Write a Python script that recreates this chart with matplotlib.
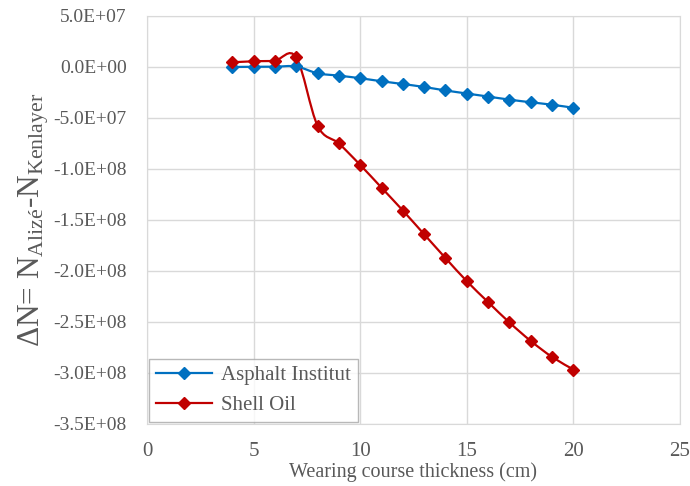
import numpy as np
import matplotlib.pyplot as plt
from matplotlib.path import Path
from matplotlib.patches import PathPatch

plt.rcParams['font.family'] = ['Liberation Serif', 'DejaVu Serif']
plt.rcParams['mathtext.fontset'] = 'custom'
plt.rcParams['mathtext.rm'] = 'Liberation Serif'
plt.rcParams['mathtext.it'] = 'Liberation Serif:italic'

# data
thickness = [4, 5, 6, 7, 8, 9, 10, 11, 12, 13, 14, 15, 16, 17, 18, 19, 20]
asphalt = [0.0e6, 0.2e6, 0.3e6, 0.5e6, -6.2e6, -8.5e6, -11e6, -14e6, -16.7e6, -19.6e6,
           -23e6, -26e6, -29e6, -32e6, -34.6e6, -37e6, -40e6]
shell = [4.6e6, 5.6e6, 6.2e6, 9.5e6, -57.5e6, -75e6, -96e6, -118.3e6, -140.7e6, -164e6,
         -187.3e6, -210e6, -230.5e6, -250.5e6, -268.6e6, -284.3e6, -296.6e6]
series = [('Asphalt Institut', asphalt, '#0070C0'), ('Shell Oil', shell, '#C00000')]
yticks = np.arange(-3.5e8, 5.1e7, 5e7)


# smooth line like Excel (Catmull-Rom as cubic bezier segments)
def smooth_path(x, y):
    p = np.column_stack([x, y]).astype(float)
    n = len(p)
    verts = [p[0]]
    codes = [Path.MOVETO]
    for i in range(n - 1):
        p0 = p[i - 1] if i > 0 else p[i]
        p3 = p[i + 2] if i + 2 < n else p[i + 1]
        c1 = p[i] + (p[i + 1] - p0) / 6
        c2 = p[i + 1] - (p3 - p[i]) / 6
        verts += [c1, c2, p[i + 1]]
        codes += [Path.CURVE4] * 3
    return Path(verts, codes)


fig = plt.figure(figsize=(6.9, 4.86), dpi=100)
ax = fig.add_axes([0.213, 0.1276, 0.7725, 0.8395])

for name, vals, col in series:
    ax.add_patch(PathPatch(smooth_path(thickness, vals), fill=False, ec=col, lw=1.6, zorder=3))
    ax.plot(thickness, vals, ls='none', color=col, marker='D', markersize=6.5, zorder=4)

# legend handles with lines
hs = [plt.Line2D([], [], color=c, lw=1.6, marker='D', markersize=6.5) for _, _, c in series]
leg = ax.legend(hs, [s[0] for s in series], loc='lower left', fontsize=15,
                frameon=True, fancybox=False, edgecolor='#a6a6a6',
                borderaxespad=0.1, handlelength=2.7, handletextpad=0.45,
                labelspacing=0.5, borderpad=0.32)
leg.get_frame().set_linewidth(1.0)
for t in leg.get_texts():
    t.set_color('#595959')

ax.set_xlim(0, 25)
ax.set_ylim(-3.5e8, 5e7)
ax.set_xticks(np.arange(0, 26, 5))
ax.set_yticks(yticks)
ax.set_yticklabels(['%.1E' % v if abs(v) > 1 else '0.0E+00' for v in yticks])
ax.grid(True, color='#d9d9d9', lw=1.0)
ax.set_axisbelow(True)
for s in ax.spines.values():
    s.set_color('#d9d9d9')
ax.tick_params(length=0, colors='#595959')
ax.tick_params(axis='y', labelsize=14, pad=14.5)
ax.tick_params(axis='x', labelsize=15, pad=13)

ax.set_xlabel('Wearing course thickness (cm)', fontsize=14.5, color='#595959', labelpad=1)
ax.set_ylabel(r'$\Delta$N= N$_{\mathrm{Alizé}}$-N$_{\mathrm{Kenlayer}}$', fontsize=22.5,
              color='#595959', labelpad=2)

fig.savefig('out.png', dpi=100)
